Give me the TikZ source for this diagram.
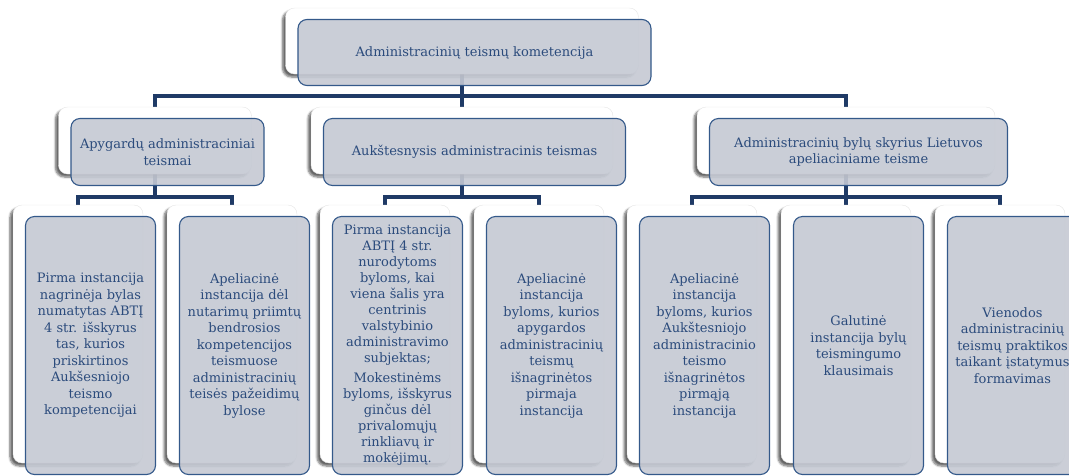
\documentclass[tikz,border=0pt]{standalone}
\usepackage{fontspec}
\setmainfont{DejaVu Serif}
\usetikzlibrary{shadows, shadows.blur, backgrounds}

\definecolor{cardfill}{HTML}{C5C9D3}
\definecolor{cardline}{HTML}{34598A}
\definecolor{cardtext}{HTML}{2B4B7C}
\definecolor{busline}{HTML}{1F3A66}

\begin{document}
\begin{tikzpicture}[x=1pt, y=-1pt,
		back/.style={rectangle, rounded corners=9pt, inner sep=0pt, fill=white, draw=black!10,
			blur shadow={shadow xshift=-3pt, shadow yshift=-3pt, shadow blur steps=6, shadow opacity=60}},
		front/.style={rectangle, rounded corners=9pt, inner sep=0pt, fill=cardfill, fill opacity=.9, text opacity=1,
			draw=cardline, line width=1.1pt, text=cardtext, align=center,
			font=\fontsize{13}{16.5}\selectfont, xshift=12.5pt, yshift=-11.5pt},
		topcard/.style={minimum width=353pt, minimum height=66pt},
		midcard/.style={minimum width=297pt, minimum height=67pt},
		leafcard/.style={minimum width=130pt, minimum height=258pt},
		bus/.style={draw=busline, line width=3.5pt}]
	\useasboundingbox (0,0) rectangle (1069,475);

	% Back cards
	\node (top) [back, topcard] at (462,41) {};
	\node (A) [back, midcard, minimum width=193pt] at (155,140.5) {};
	\node (B) [back, midcard, minimum width=302pt] at (462,140.5) {};
	\node (C) [back, midcard, minimum width=298pt] at (846,140.5) {};
	\node (c1) [back, leafcard] at (78,334) {};
	\node (c2) [back, leafcard] at (232,334) {};
	\node (c3) [back, leafcard] at (385,334) {};
	\node (c4) [back, leafcard] at (539,334) {};
	\node (c5) [back, leafcard] at (692,334) {};
	\node (c6) [back, leafcard] at (846,334) {};
	\node (c7) [back, leafcard] at (1000,334) {};

	% Bus points
	\coordinate (topbus) at (462,96);
	\coordinate (abus) at (155,197);
	\coordinate (bbus) at (462,197);
	\coordinate (cbus) at (846,197);

	% Edges
	\begin{pgfonlayer}{background}
		\draw[bus] (A.center) |- (topbus) -| (C.center);
		\draw[bus] (top.center) -- (B.center);
		\draw[bus] (c1.center) |- (abus) -| (c2.center);
		\draw[bus] (A.center) -- (abus);
		\draw[bus] (c3.center) |- (bbus) -| (c4.center);
		\draw[bus] (B.center) -- (bbus);
		\draw[bus] (c5.center) |- (cbus) -| (c7.center);
		\draw[bus] (C.center) -- (c6.center);
	\end{pgfonlayer}

	% Front cards
	\node (topF) [front, topcard] at (top) {Administracinių teismų kometencija};
	\node (AF) [front, midcard, minimum width=193pt] at (A) {Apygardų administraciniai\\teismai};
	\node (BF) [front, midcard, minimum width=302pt] at (B) {Aukštesnysis administracinis teismas};
	\node (CF) [front, midcard, minimum width=298pt] at (C) {Administracinių bylų skyrius Lietuvos\\apeliaciniame teisme};
	\node (c1F) [front, leafcard] at (c1) {Pirma instancija\\nagrinėja bylas\\numatytas ABTĮ\\4 str. išskyrus\\tas, kurios\\priskirtinos\\Aukšesniojo\\teismo\\kompetencijai};
	\node (c2F) [front, leafcard] at (c2) {Apeliacinė\\instancija dėl\\nutarimų priimtų\\bendrosios\\kompetencijos\\teismuose\\administracinių\\teisės pažeidimų\\bylose};
	\node (c3F) [front, leafcard, font=\fontsize{13}{16}\selectfont] at (c3) {Pirma instancija\\ABTĮ 4 str.\\nurodytoms\\byloms, kai\\viena šalis yra\\centrinis\\valstybinio\\administravimo\\subjektas;\\[4pt]Mokestinėms\\byloms, išskyrus\\ginčus dėl\\privalomųjų\\rinkliavų ir\\mokėjimų.};
	\node (c4F) [front, leafcard] at (c4) {Apeliacinė\\instancija\\byloms, kurios\\apygardos\\administracinių\\teismų\\išnagrinėtos\\pirmaja\\instancija};
	\node (c5F) [front, leafcard] at (c5) {Apeliacinė\\instancija\\byloms, kurios\\Aukštesniojo\\administracinio\\teismo\\išnagrinėtos\\pirmąją\\instancija};
	\node (c6F) [front, leafcard] at (c6) {Galutinė\\instancija bylų\\teismingumo\\klausimais};
	\node (c7F) [front, leafcard] at (c7) {Vienodos\\administracinių\\teismų praktikos\\taikant įstatymus\\formavimas};

\end{tikzpicture}
\end{document}
